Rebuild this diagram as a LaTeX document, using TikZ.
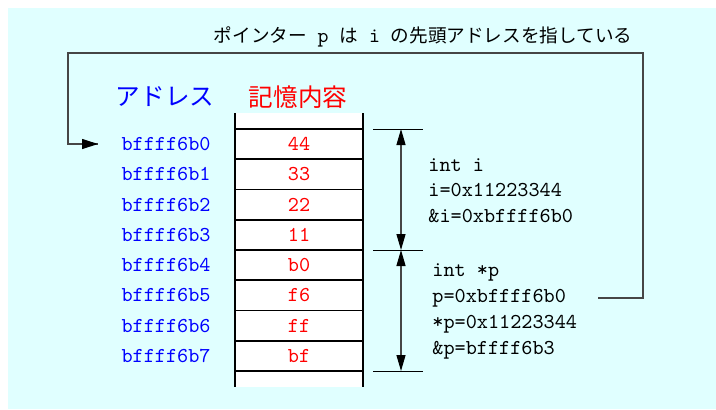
\documentclass[tikz,border=0pt]{standalone}
\usepackage{fontspec}
\newfontfamily\jp{Noto Sans CJK JP}
\usetikzlibrary{arrows.meta}
\definecolor{bgcyan}{RGB}{224,255,255}
\definecolor{linegray}{RGB}{70,70,70}
\newcommand{\ttt}[1]{{\ttfamily\fontsize{10.4}{12}\selectfont #1}}
\tikzset{
  cell/.style={draw=black, line width=0.8pt, fill=white, minimum width=64pt, minimum height=15.125pt, inner sep=0pt, text=red, font=\ttfamily\fontsize{10.6}{12}\selectfont},
  addr/.style={anchor=east, inner sep=0pt, text=blue, font=\ttfamily\fontsize{10.6}{12}\selectfont},
  info/.style={anchor=west, inner sep=0pt, font=\ttfamily\fontsize{10.6}{12}\selectfont},
  head/.style={inner sep=0pt, font=\jp\fontsize{12.3}{14}\selectfont},
  tick/.style={draw=black, line width=0.5pt},
  dimarrow/.style={draw=linegray, line width=0.6pt, {Triangle[length=8pt,width=4.5pt,color=black]}-{Triangle[length=8pt,width=4.5pt,color=black]}},
  ptrline/.style={draw=linegray, line width=0.6pt},
}
\begin{document}
\begin{tikzpicture}[x=0.5pt,y=-0.5pt]
\useasboundingbox (0,0) rectangle (716,409);
\fill[white] (0,0) rectangle (716,409);
\fill[bgcyan] (8,8) rectangle (716,409);

% title
\node[inner sep=0pt, font=\jp\fontsize{9.3}{12}\selectfont] (title) at (423,37) {ポインター\ttt{ p }は\ttt{ i }の先頭アドレスを指している};

% headers
\node[head, text=blue] (hA) at (165,97) {アドレス};
\node[head, text=red] (hM) at (298,97) {記憶内容};

% column extension
\fill[white] (235,113) rectangle (363,387);

% cells
\foreach \v/\k in {44/0,33/1,22/2,11/3,b0/4,f6/5,ff/6,bf/7}{
  \node[cell] (c\k) at (299,{129+30.25*(\k+0.5)}) {\v};
  \node[addr] (a\k) at (211,{129+30.25*(\k+0.5)}) {bffff6b\k};
}
\draw[line width=1pt] (235,113) -- (235,387);
\draw[line width=1pt] (363,113) -- (363,387);

% ticks
\coordinate (t0a) at (373,129); \coordinate (t0b) at (423,129);
\coordinate (t1a) at (373,250); \coordinate (t1b) at (423,250);
\coordinate (t2a) at (373,371); \coordinate (t2b) at (423,371);
\draw[tick] (t0a) -- (t0b);
\draw[tick] (t1a) -- (t1b);
\draw[tick] (t2a) -- (t2b);
\coordinate (d0) at (401,129);
\coordinate (d1) at (401,250);
\coordinate (d2) at (401,371);
\draw[dimarrow] (d0) -- (d1);
\draw[dimarrow] (d1) -- (d2);

% info text
\node[info] (i1) at (428,165) {int i};
\node[info] (i2) at (428,190) {i=0x11223344};
\node[info] (i3) at (428,216) {\&i=0xbffff6b0};
\node[info] (p1) at (432,272) {int *p};
\node[info] (p2) at (432,298) {p=0xbffff6b0};
\node[info] (p3) at (432,324) {*p=0x11223344};
\node[info] (p4) at (432,350) {\&p=bffff6b3};

% pointer connector
\coordinate (ps) at (598,298);
\coordinate (pr) at (643,298);
\coordinate (prt) at (643,53);
\coordinate (plt) at (68,53);
\coordinate (plb) at (68,144);
\coordinate (tip) at (98,144);
\draw[ptrline] (ps) -- (pr) -- (prt) -- (plt) -- (plb) -- (tip);
\draw[ptrline, -{Triangle[length=8pt,width=5pt,color=black]}] (plb) -- (tip);
\end{tikzpicture}
\end{document}
